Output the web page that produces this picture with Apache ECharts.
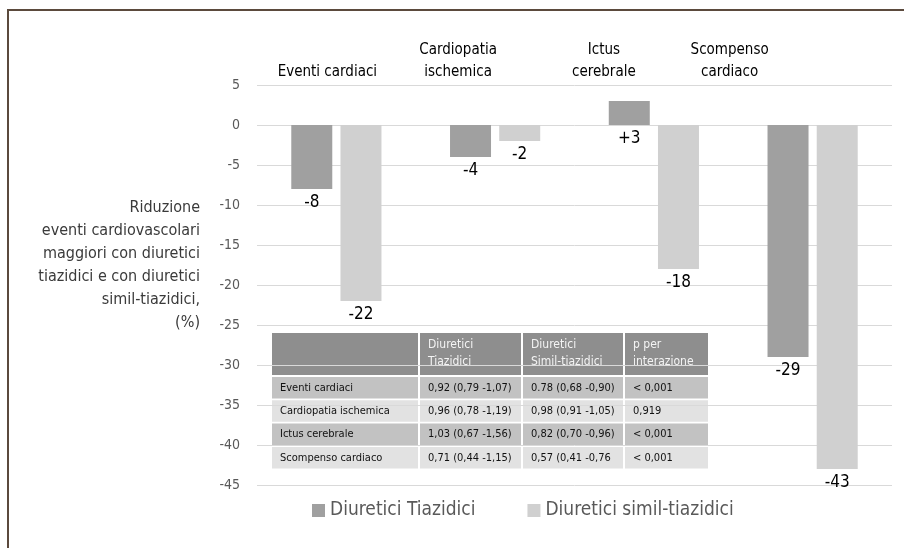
<!DOCTYPE html>
<html>
<head>
<meta charset="utf-8">
<script src="https://cdn.jsdelivr.net/npm/echarts@6/dist/echarts.min.js"></script>
<style>
html,body{margin:0;padding:0;background:#fff;}
#chart{width:904px;height:548px;}
</style>
</head>
<body>
<div id="chart"></div>
<script>
// ---- data ----
var categories = ['Eventi cardiaci', 'Cardiopatia\nischemica', 'Ictus\ncerebrale', 'Scompenso\ncardiaco'];
var seriesNames = ['Diuretici Tiazidici', 'Diuretici simil-tiazidici'];
var tiazidici = [-8, -4, 3, -29];
var similTiazidici = [-22, -2, -18, -43];
var yTicks = {min: -45, max: 5, interval: 5};
var yAxisName = 'Riduzione\neventi cardiovascolari\nmaggiori con diuretici\ntiazidici e con diuretici\nsimil-tiazidici,\n(%)';
var tableHeader = ['', 'Diuretici\nTiazidici', 'Diuretici\nSimil-tiazidici', 'p per\ninterazione'];
var tableRow1 = ['Eventi cardiaci', '0,92 (0,79 -1,07)', '0.78 (0,68 -0,90)', '< 0,001'];
var tableRow2 = ['Cardiopatia ischemica', '0,96 (0,78 -1,19)', '0,98 (0,91 -1,05)', '0,919'];
var tableRow3 = ['Ictus cerebrale', '1,03 (0,67 -1,56)', '0,82 (0,70 -0,96)', '< 0,001'];
var tableRow4 = ['Scompenso cardiaco', '0,71 (0,44 -1,15)', '0,57 (0,41 -0,76', '< 0,001'];
var tableRows = [tableRow1, tableRow2, tableRow3, tableRow4];

// ---- layout / style ----
var FONT = '"Liberation Sans Narrow", "DejaVu Sans Condensed", "Open Sans", sans-serif';
var headerShift = [18, 74, 100, 166]; // right padding to shift category headers left
var colX = [272, 420, 523, 625];
var colW = [146, 101, 100, 83];
var tableTop = 333, headerH = 42, rowTop = 377, rowPitch = 23.3, rowH = 21.5;

var chart = echarts.init(document.getElementById('chart'));

var rich = {};
headerShift.forEach(function (p, i) {
  rich['h' + i] = {fontSize: 15, color: '#000', fontFamily: FONT, lineHeight: 22, padding: [0, p, 0, 0]};
});

var graphics = [];
// frame
graphics.push({type: 'rect', shape: {x: 8, y: 10, width: 1000, height: 700},
  style: {fill: 'none', stroke: '#5b4a3d', lineWidth: 2}, z: 100, silent: true});

// y axis title
graphics.push({type: 'text', x: 200, y: 196, silent: true,
  style: {text: yAxisName, fill: '#3a3a3a', font: '16px ' + FONT, lineHeight: 23,
    align: 'right', verticalAlign: 'top'}});

// table
var tableEls = [];
tableHeader.forEach(function (t, c) {
  tableEls.push({type: 'rect', shape: {x: colX[c], y: tableTop, width: colW[c], height: headerH},
    style: {fill: '#8e8e8e'}});
  if (t) {
    tableEls.push({type: 'text', x: colX[c] + 8, y: tableTop + 3,
      style: {text: t, fill: '#f4f4f4', font: '12px ' + FONT, lineHeight: 17,
        align: 'left', verticalAlign: 'top'}});
  }
});
tableRows.forEach(function (row, r) {
  var y = rowTop + r * rowPitch;
  row.forEach(function (t, c) {
    tableEls.push({type: 'rect', shape: {x: colX[c], y: y, width: colW[c], height: rowH},
      style: {fill: r % 2 === 0 ? '#c2c2c2' : '#e2e2e2'}});
    tableEls.push({type: 'text', x: colX[c] + 8, y: y + rowH / 2,
      style: {text: t, fill: '#111', font: '11px ' + FONT,
        align: 'left', verticalAlign: 'middle'}});
  });
});
graphics.push({type: 'group', children: tableEls, z: 50});

var labelCfg = {
  show: true, position: 'bottom', distance: 5,
  fontSize: 17, color: '#000', fontFamily: FONT,
  formatter: function (p) { return p.value > 0 ? '+' + p.value : String(p.value); }
};

chart.setOption({
  animation: false,
  textStyle: {fontFamily: FONT},
  grid: {left: 257, right: 12, top: 85, bottom: 63, containLabel: false, outerBoundsMode: 'none'},
  legend: {
    data: seriesNames, left: 307, top: 496, itemWidth: 13, itemHeight: 13, itemGap: 52,
    icon: 'rect', textStyle: {fontSize: 19, color: '#595959', fontFamily: FONT}
  },
  xAxis: {
    type: 'category', position: 'top', data: categories,
    axisLine: {show: false}, axisTick: {show: false},
    axisLabel: {
      margin: 2, interval: 0,
      formatter: function (v, i) { return '{h' + i + '|' + v + '}'; },
      rich: rich
    }
  },
  yAxis: {
    type: 'value', min: yTicks.min, max: yTicks.max, interval: yTicks.interval,
    axisLine: {show: false}, axisTick: {show: false},
    axisLabel: {color: '#595959', fontSize: 14, margin: 17, fontFamily: FONT},
    splitLine: {lineStyle: {color: '#d9d9d9', width: 1}}
  },
  series: [
    {name: seriesNames[0], type: 'bar', data: tiazidici, barWidth: 41, barGap: '20%',
      itemStyle: {color: '#a0a0a0'}, label: labelCfg},
    {name: seriesNames[1], type: 'bar', data: similTiazidici, barWidth: 41,
      itemStyle: {color: '#d0d0d0'}, label: labelCfg}
  ],
  graphic: graphics
});
</script>
</body>
</html>
